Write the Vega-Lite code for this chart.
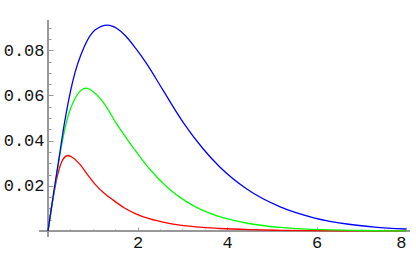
{
  "$schema": "https://vega.github.io/schema/vega-lite/v6.json",
  "width": 358,
  "height": 226,
  "autosize": {"type": "none"},
  "padding": {"left": 48, "top": 5, "right": 10, "bottom": 26},
  "background": "white",
  "config": {
    "view": {"stroke": null},
    "axis": {"grid": false, "domain": false, "title": null, "tickColor": "#999999", "tickWidth": 1, "labelFont": "Liberation Mono", "labelFontSize": 17, "labelColor": "#111111"}
  },
  "data": {"values": [
    {"s": "red", "x": 0, "y": 0},
    {"s": "red", "x": 0.1, "y": 0.0128},
    {"s": "red", "x": 0.2, "y": 0.0235},
    {"s": "red", "x": 0.3, "y": 0.0303},
    {"s": "red", "x": 0.44, "y": 0.0334},
    {"s": "red", "x": 0.55, "y": 0.0325},
    {"s": "red", "x": 0.7, "y": 0.0298},
    {"s": "red", "x": 0.9, "y": 0.0245},
    {"s": "red", "x": 1.07, "y": 0.0203},
    {"s": "red", "x": 1.25, "y": 0.0168},
    {"s": "red", "x": 1.44, "y": 0.0139},
    {"s": "red", "x": 1.7, "y": 0.0103},
    {"s": "red", "x": 1.96, "y": 0.0076},
    {"s": "red", "x": 2.3, "y": 0.0052},
    {"s": "red", "x": 2.57, "y": 0.0039},
    {"s": "red", "x": 2.83, "y": 0.0029},
    {"s": "red", "x": 3.3, "y": 0.0018},
    {"s": "red", "x": 3.84, "y": 0.0011},
    {"s": "red", "x": 4.5, "y": 0.0006},
    {"s": "red", "x": 5.2, "y": 0.0003},
    {"s": "red", "x": 6, "y": 0.00015},
    {"s": "red", "x": 7, "y": 0.00007},
    {"s": "red", "x": 8, "y": 0.00004},
    {"s": "green", "x": 0, "y": 0},
    {"s": "green", "x": 0.1, "y": 0.0132},
    {"s": "green", "x": 0.2, "y": 0.0257},
    {"s": "green", "x": 0.3, "y": 0.0375},
    {"s": "green", "x": 0.45, "y": 0.0510},
    {"s": "green", "x": 0.6, "y": 0.0585},
    {"s": "green", "x": 0.72, "y": 0.0619},
    {"s": "green", "x": 0.85, "y": 0.0632},
    {"s": "green", "x": 1.05, "y": 0.0610},
    {"s": "green", "x": 1.29, "y": 0.0554},
    {"s": "green", "x": 1.52, "y": 0.0478},
    {"s": "green", "x": 1.83, "y": 0.0389},
    {"s": "green", "x": 2.05, "y": 0.0330},
    {"s": "green", "x": 2.28, "y": 0.0272},
    {"s": "green", "x": 2.72, "y": 0.0184},
    {"s": "green", "x": 3.0, "y": 0.0142},
    {"s": "green", "x": 3.32, "y": 0.01045},
    {"s": "green", "x": 3.8, "y": 0.00656},
    {"s": "green", "x": 4.45, "y": 0.00343},
    {"s": "green", "x": 5.19, "y": 0.00159},
    {"s": "green", "x": 5.94, "y": 0.00071},
    {"s": "green", "x": 7, "y": 0.00022},
    {"s": "green", "x": 8, "y": 0.00007},
    {"s": "blue", "x": 0, "y": 0},
    {"s": "blue", "x": 0.1, "y": 0.0135},
    {"s": "blue", "x": 0.25, "y": 0.0327},
    {"s": "blue", "x": 0.36, "y": 0.0468},
    {"s": "blue", "x": 0.55, "y": 0.0660},
    {"s": "blue", "x": 0.81, "y": 0.0815},
    {"s": "blue", "x": 1.05, "y": 0.0889},
    {"s": "blue", "x": 1.33, "y": 0.0911},
    {"s": "blue", "x": 1.55, "y": 0.0895},
    {"s": "blue", "x": 1.72, "y": 0.0866},
    {"s": "blue", "x": 1.96, "y": 0.0808},
    {"s": "blue", "x": 2.2, "y": 0.0742},
    {"s": "blue", "x": 2.57, "y": 0.0623},
    {"s": "blue", "x": 3.02, "y": 0.0481},
    {"s": "blue", "x": 3.47, "y": 0.0363},
    {"s": "blue", "x": 3.84, "y": 0.0283},
    {"s": "blue", "x": 4.45, "y": 0.01846},
    {"s": "blue", "x": 5.19, "y": 0.01067},
    {"s": "blue", "x": 5.94, "y": 0.00586},
    {"s": "blue", "x": 6.68, "y": 0.0031},
    {"s": "blue", "x": 7.3, "y": 0.00175},
    {"s": "blue", "x": 8, "y": 0.00088}
  ]},
  "resolve": {"axis": {"x": "independent", "y": "independent"}},
  "layer": [
    {
      "mark": {"type": "rule", "color": "#999999", "strokeWidth": 1.5},
      "encoding": {
        "x": {"datum": -0.18, "type": "quantitative", "scale": {"domain": [0, 8]}, "axis": {"orient": "bottom", "values": [0.5, 1, 1.5, 2.5, 3, 3.5, 4.5, 5, 5.5, 6.5, 7, 7.5], "labels": false, "tickSize": -2}},
        "x2": {"datum": 8.09},
        "y": {"datum": 0, "type": "quantitative", "scale": {"domain": [0, 0.093]}, "axis": {"orient": "left", "values": [0.005, 0.01, 0.015, 0.025, 0.03, 0.035, 0.045, 0.05, 0.055, 0.065, 0.07, 0.075, 0.085, 0.09], "labels": false, "tickSize": -3}}
      }
    },
    {
      "mark": {"type": "rule", "color": "#999999", "strokeWidth": 1.5},
      "encoding": {
        "x": {"datum": 0, "type": "quantitative", "axis": null},
        "y": {"datum": -0.0025, "type": "quantitative", "axis": null},
        "y2": {"datum": 0.093}
      }
    },
    {
      "mark": {"type": "line", "strokeWidth": 1.3, "interpolate": "monotone"},
      "encoding": {
        "x": {"field": "x", "type": "quantitative", "axis": {"orient": "bottom", "values": [2, 4, 6, 8], "format": "d", "tickSize": -4, "labelPadding": 7}},
        "y": {"field": "y", "type": "quantitative", "axis": {"orient": "left", "values": [0.02, 0.04, 0.06, 0.08], "format": ".2f", "tickSize": -5, "labelPadding": 9}},
        "color": {"field": "s", "type": "nominal", "sort": ["red", "green", "blue"], "scale": {"domain": ["red", "green", "blue"], "range": ["#ff0000", "#00ff00", "#0000ff"]}, "legend": null}
      }
    }
  ]
}
